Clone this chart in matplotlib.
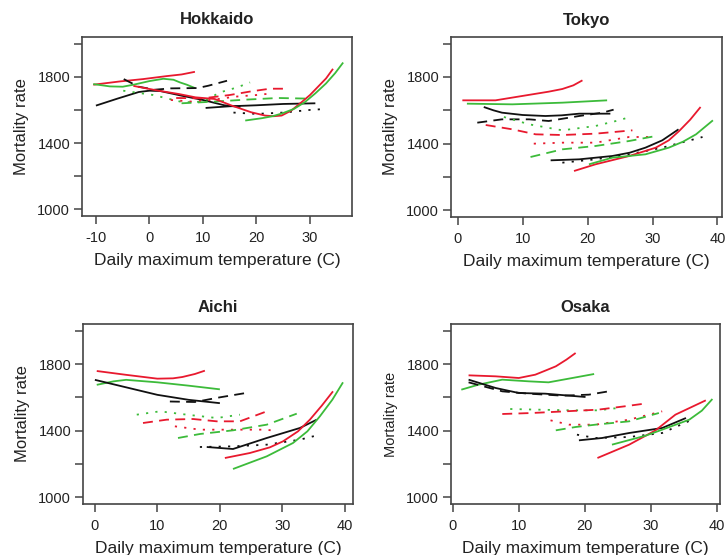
import matplotlib
matplotlib.use("Agg")
import matplotlib.pyplot as plt

plt.rcParams['font.family'] = ['Liberation Sans', 'DejaVu Sans']
plt.rcParams['axes.unicode_minus'] = False

RED = '#E8192E'
GREEN = '#3CBB3A'
BLACK = '#111111'

panels = ["Hokkaido", "Tokyo", "Aichi", "Osaka"]

# ---- Hokkaido ----
hok_red_solid_w_x = [-10.5, -5.5, -1.2, 3.2, 6, 8.5]
hok_red_solid_w_y = [1752, 1772, 1786, 1804, 1814, 1830]
hok_green_solid_w_x = [-10.5, -7.4, -5, -3, 0, 2.6, 4.5, 5.7, 7, 8.5]
hok_green_solid_w_y = [1756, 1742, 1740, 1752, 1774, 1788, 1782, 1766, 1752, 1732]
hok_black_solid_w_x = [-10, -6, -2, 0, 2, 4, 6, 10, 14, 17]
hok_black_solid_w_y = [1626, 1668, 1708, 1716, 1714, 1700, 1686, 1660, 1628, 1618]
hok_black_dash_x = [-4.8, -2, 1, 4, 9, 11, 14.5]
hok_black_dash_y = [1786, 1740, 1722, 1730, 1732, 1746, 1776]
hok_green_dot_x = [-4.9, 0.7, 6.3, 10, 13.2, 16.4, 18.8]
hok_green_dot_y = [1716, 1690, 1646, 1650, 1706, 1736, 1766]
hok_red_dash_x = [5, 10, 15, 19, 22.5, 25.5]
hok_red_dash_y = [1672, 1670, 1690, 1712, 1728, 1728]
hok_red_dot_x = [4, 8, 12, 16, 20, 23]
hok_red_dot_y = [1660, 1650, 1662, 1680, 1690, 1700]
hok_green_dash_x = [6, 12, 18, 24, 30]
hok_green_dash_y = [1640, 1650, 1662, 1672, 1668]
hok_black_solid_s_x = [10.5, 15, 20, 25, 31]
hok_black_solid_s_y = [1612, 1622, 1628, 1636, 1640]
hok_black_dot_x = [15.7, 20, 25, 30, 33]
hok_black_dot_y = [1584, 1576, 1584, 1600, 1606]
hok_red_solid_s_x = [-3, 1.7, 5.5, 8.6, 12.2, 15.4, 19, 21.6, 23.2, 24.7, 26.5, 28.4, 30, 31.5, 33, 34.3]
hok_red_solid_s_y = [1745, 1716, 1696, 1676, 1666, 1626, 1586, 1566, 1562, 1566, 1596, 1646, 1690, 1740, 1790, 1848]
hok_green_solid_s_x = [17.9, 21, 23, 24.7, 27, 29, 31, 33, 34.7, 36.2]
hok_green_solid_s_y = [1536, 1550, 1562, 1578, 1606, 1646, 1700, 1760, 1822, 1886]

# ---- Tokyo ----
tok_red_solid_w_x = [0.7, 5.8, 9.9, 14, 16.1, 17.8, 19.2]
tok_red_solid_w_y = [1660, 1660, 1686, 1712, 1728, 1750, 1780]
tok_green_solid_w_x = [1.4, 8.4, 16.1, 23]
tok_green_solid_w_y = [1640, 1636, 1646, 1660]
tok_black_solid_w_x = [4, 5.5, 6.8, 10, 13.5, 16, 18.7, 23.5]
tok_black_solid_w_y = [1620, 1600, 1586, 1572, 1566, 1570, 1580, 1580]
tok_black_dash_x = [3, 6.8, 11, 14, 18.7, 22.3, 24]
tok_black_dash_y = [1526, 1546, 1546, 1536, 1566, 1586, 1604]
tok_green_dot_x = [7.1, 11, 16.1, 21.2, 24.8, 26.5]
tok_green_dot_y = [1560, 1516, 1480, 1506, 1540, 1560]
tok_red_dash_x = [4.3, 8.4, 12, 16.1, 21.2, 26.9]
tok_red_dash_y = [1512, 1486, 1456, 1452, 1460, 1480]
tok_red_dot_x = [11.7, 16.1, 21.2, 26.4, 30]
tok_red_dot_y = [1400, 1406, 1406, 1440, 1440]
tok_green_dash_x = [11.2, 16.1, 21.2, 26.4, 30.5]
tok_green_dash_y = [1320, 1366, 1386, 1416, 1446]
tok_black_solid_s_x = [14.3, 18.7, 23.8, 26.5, 28.9, 31.5, 34]
tok_black_solid_s_y = [1300, 1306, 1326, 1346, 1376, 1420, 1486]
tok_black_dot_x = [16.1, 21.2, 26.4, 31.5, 37.7]
tok_black_dot_y = [1286, 1306, 1336, 1376, 1440]
tok_red_solid_s_x = [17.9, 21.2, 26.4, 30.5, 32.5, 34.1, 35.8, 37.4]
tok_red_solid_s_y = [1236, 1276, 1326, 1376, 1420, 1476, 1544, 1620]
tok_green_solid_s_x = [20.2, 23.8, 28.9, 32.5, 34.7, 36.7, 39.3]
tok_green_solid_s_y = [1276, 1316, 1336, 1376, 1412, 1456, 1540]

# ---- Aichi ----
aic_red_solid_w_x = [0.3, 5, 10, 12.5, 14, 16, 17.6]
aic_red_solid_w_y = [1758, 1735, 1712, 1714, 1722, 1740, 1760]
aic_green_solid_w_x = [0.3, 3, 5, 10, 15, 20]
aic_green_solid_w_y = [1675, 1696, 1705, 1690, 1670, 1648]
aic_black_solid_w_x = [0, 5, 10, 15, 20]
aic_black_solid_w_y = [1705, 1660, 1615, 1585, 1565]
aic_black_dash_x = [12, 16, 20, 24]
aic_black_dash_y = [1575, 1572, 1600, 1625]
aic_green_dot_x = [6.7, 10.4, 14.7, 19.5, 23.2]
aic_green_dot_y = [1496, 1516, 1496, 1476, 1496]
aic_red_dash_x = [7.7, 11.5, 15.7, 19.5, 23.2, 27.5]
aic_red_dash_y = [1446, 1466, 1470, 1456, 1456, 1516]
aic_green_dash_x = [13.3, 16.8, 22.1, 27.5, 32.3]
aic_green_dash_y = [1356, 1380, 1402, 1436, 1502]
aic_red_dot_x = [12.8, 16.8, 22.1, 27.5, 29.1]
aic_red_dot_y = [1426, 1406, 1406, 1406, 1396]
aic_black_solid_s_x = [17.9, 22.1, 27.5, 32.8, 35.5]
aic_black_solid_s_y = [1302, 1290, 1356, 1416, 1466]
aic_black_dot_x = [16.8, 22.1, 27.5, 32.8, 36]
aic_black_dot_y = [1302, 1306, 1316, 1346, 1376]
aic_red_solid_s_x = [20.8, 24.8, 28, 30.1, 32.5, 34.4, 36.3, 38.1]
aic_red_solid_s_y = [1236, 1266, 1300, 1336, 1396, 1466, 1550, 1636]
aic_green_solid_s_x = [22.1, 27.5, 31.7, 34, 36, 38, 39.7]
aic_green_solid_s_y = [1170, 1246, 1326, 1396, 1486, 1586, 1690]

# ---- Osaka ----
osa_red_solid_w_x = [2.4, 6.5, 10, 12.5, 14, 15.6, 17.2, 18.6]
osa_red_solid_w_y = [1732, 1726, 1716, 1736, 1760, 1786, 1826, 1866]
osa_green_solid_w_x = [1.3, 3.9, 7.5, 11.5, 14.5, 18.1, 21.4]
osa_green_solid_w_y = [1646, 1676, 1706, 1696, 1690, 1716, 1740]
osa_black_solid_w_x = [2.4, 6.5, 10, 14, 20.1]
osa_black_solid_w_y = [1706, 1656, 1626, 1622, 1602]
osa_black_dash_x = [2.4, 7.5, 11.5, 16.6, 20.6, 23.6]
osa_black_dash_y = [1690, 1636, 1622, 1610, 1616, 1636]
osa_red_dash_x = [7.5, 12, 17, 22, 26, 29]
osa_red_dash_y = [1500, 1506, 1516, 1526, 1546, 1562]
osa_green_dot_x = [8.7, 13, 18, 22, 25]
osa_green_dot_y = [1530, 1526, 1522, 1522, 1536]
osa_red_dot_x = [14.8, 17.6, 21.6, 26.7, 31.7]
osa_red_dot_y = [1462, 1436, 1436, 1466, 1516]
osa_green_dash_x = [15.6, 18.6, 21.6, 26.7, 31.2]
osa_green_dash_y = [1402, 1422, 1436, 1456, 1506]
osa_black_solid_s_x = [19.1, 22.6, 26.7, 31.7, 35.3]
osa_black_solid_s_y = [1342, 1356, 1386, 1416, 1476]
osa_black_dot_x = [18.8, 21.6, 26.7, 31.7, 36]
osa_black_dot_y = [1376, 1356, 1362, 1386, 1462]
osa_red_solid_s_x = [21.9, 26.7, 30.7, 33.7, 38.3]
osa_red_solid_s_y = [1236, 1316, 1402, 1496, 1582]
osa_green_solid_s_x = [24.1, 29.2, 31.7, 35.8, 37.7, 39.3]
osa_green_solid_s_y = [1316, 1370, 1406, 1466, 1520, 1590]

x_ticks = {
    "Hokkaido": [-10, 0, 10, 20, 30],
    "Tokyo": [0, 10, 20, 30, 40],
    "Aichi": [0, 10, 20, 30, 40],
    "Osaka": [0, 10, 20, 30, 40],
}
y_ticks = [1000, 1200, 1400, 1600, 1800, 2000]
y_ticklabels = ["1000", "", "1400", "", "1800", ""]

DASH = (0, (5.5, 3.5))
DOT = (0, (1.2, 4.0))

def series(prefix):
    g = globals()
    return [
        (g[prefix + "_red_solid_w_x"], g[prefix + "_red_solid_w_y"], RED, '-'),
        (g[prefix + "_green_solid_w_x"], g[prefix + "_green_solid_w_y"], GREEN, '-'),
        (g[prefix + "_black_solid_w_x"], g[prefix + "_black_solid_w_y"], BLACK, '-'),
        (g[prefix + "_black_dash_x"], g[prefix + "_black_dash_y"], BLACK, DASH),
        (g[prefix + "_green_dot_x"], g[prefix + "_green_dot_y"], GREEN, DOT),
        (g[prefix + "_red_dash_x"], g[prefix + "_red_dash_y"], RED, DASH),
        (g[prefix + "_red_dot_x"], g[prefix + "_red_dot_y"], RED, DOT),
        (g[prefix + "_green_dash_x"], g[prefix + "_green_dash_y"], GREEN, DASH),
        (g[prefix + "_black_solid_s_x"], g[prefix + "_black_solid_s_y"], BLACK, '-'),
        (g[prefix + "_black_dot_x"], g[prefix + "_black_dot_y"], BLACK, DOT),
        (g[prefix + "_red_solid_s_x"], g[prefix + "_red_solid_s_y"], RED, '-'),
        (g[prefix + "_green_solid_s_x"], g[prefix + "_green_solid_s_y"], GREEN, '-'),
    ]

W, H = 725, 555
fig = plt.figure(figsize=(W / 100, H / 100), dpi=100)

# pixel boxes: left, right, top, bottom
boxes = {
    "Hokkaido": (82, 352, 37, 216),
    "Tokyo": (451, 722, 37, 217),
    "Aichi": (83, 353, 324, 504),
    "Osaka": (451, 720, 324, 504),
}
xlims = {
    "Hokkaido": (-12.6, 37.85),
    "Tokyo": (-1.05, 40.7),
    "Aichi": (-1.9, 41.3),
    "Osaka": (-0.26, 40.45),
}
prefixes = {"Hokkaido": "hok", "Tokyo": "tok", "Aichi": "aic", "Osaka": "osa"}
ylab_size = {"Hokkaido": 12, "Tokyo": 12, "Aichi": 12, "Osaka": 10.5}

TXT = '#222222'
for name in panels:
    l, r, t, b = boxes[name]
    ax = fig.add_axes([l / W, 1 - b / H, (r - l) / W, (b - t) / H])
    for xs, ys, c, ls in series(prefixes[name]):
        ax.plot(xs, ys, color=c, linestyle=ls, linewidth=1.3,
                solid_capstyle='butt', dash_capstyle='butt',
                solid_joinstyle='round')
    ax.set_xlim(*xlims[name])
    ax.set_ylim(960, 2040)
    ax.set_xticks(x_ticks[name])
    ax.set_yticks(y_ticks)
    ax.set_yticklabels(y_ticklabels)
    ax.tick_params(direction='out', length=5.5, width=1.1, colors='#444444',
                   labelcolor=TXT, labelsize=10.5, pad=3)
    ax.tick_params(axis='x', pad=5)
    for s in ax.spines.values():
        s.set_color('#444444')
        s.set_linewidth(1.2)
    ax.set_title(name, fontsize=12, fontweight='bold', color=TXT, pad=9)
    ax.set_xlabel("Daily maximum temperature (C)", fontsize=12.5, color=TXT, labelpad=6)
    ax.set_ylabel("Mortality rate", fontsize=ylab_size[name], color=TXT, labelpad=6)

fig.savefig("out.png", dpi=100)
